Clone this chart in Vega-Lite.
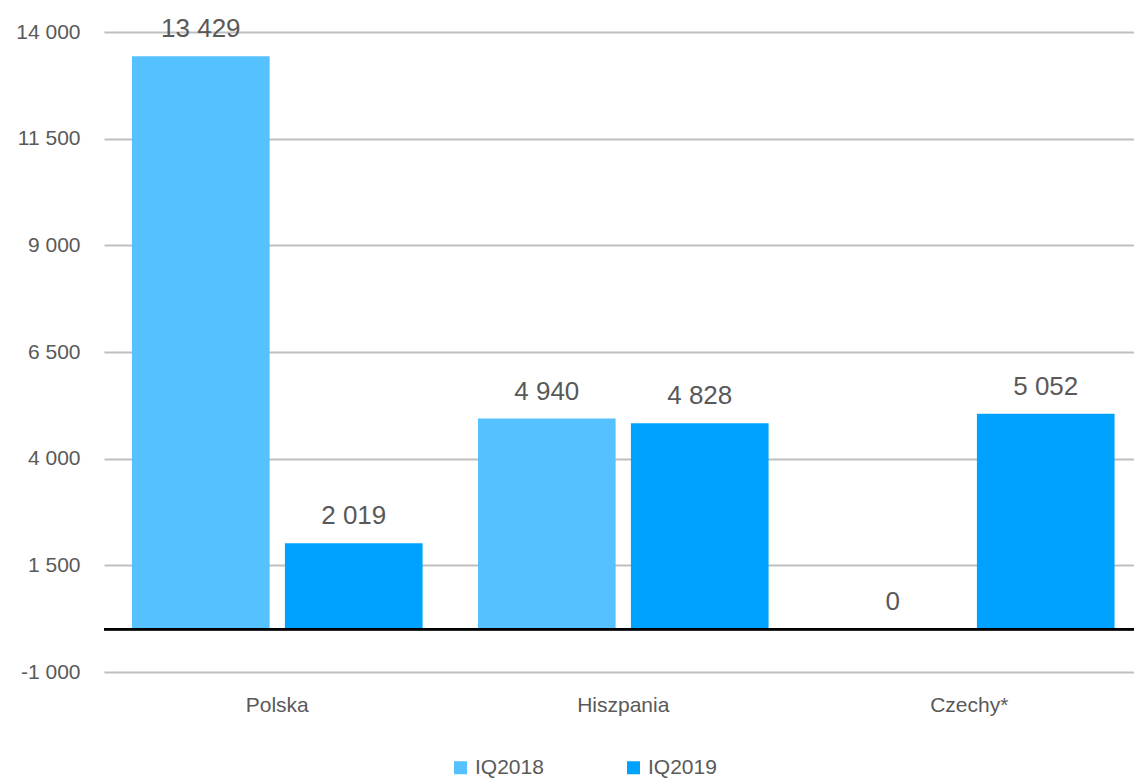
{
  "$schema": "https://vega.github.io/schema/vega-lite/v6.json",
  "autosize": "none",
  "width": 1030,
  "height": 640,
  "padding": {"left": 104, "top": 32, "right": 0, "bottom": 111},
  "background": "white",
  "config": {
    "locale": {"number": {"decimal": ",", "thousands": " ", "grouping": [3], "currency": ["", ""], "minus": "-"}},
    "font": "Liberation Sans",
    "view": {"stroke": null},
    "axis": {"labelFont": "Liberation Sans", "labelColor": "#595959", "labelFontSize": 21}
  },
  "data": {"values": [
    {"kraj": "Polska", "okres": "IQ2018", "wartosc": 13429},
    {"kraj": "Polska", "okres": "IQ2019", "wartosc": 2019},
    {"kraj": "Hiszpania", "okres": "IQ2018", "wartosc": 4940},
    {"kraj": "Hiszpania", "okres": "IQ2019", "wartosc": 4828},
    {"kraj": "Czechy*", "okres": "IQ2018", "wartosc": 0},
    {"kraj": "Czechy*", "okres": "IQ2019", "wartosc": 5052}
  ]},
  "encoding": {
    "x": {"field": "kraj", "type": "nominal", "sort": ["Polska", "Hiszpania", "Czechy*"],
      "scale": {"paddingInner": 0.16, "paddingOuter": 0.0685, "align": 0.59},
      "axis": {"title": null, "labelAngle": 0, "domain": false, "ticks": false, "labelPadding": 22, "grid": false}},
    "xOffset": {"field": "okres", "type": "nominal", "scale": {"paddingInner": 0.1}},
    "y": {"field": "wartosc", "type": "quantitative",
      "scale": {"domain": [-1000, 14000], "nice": false, "zero": false},
      "axis": {"title": null, "values": [-1000, 1500, 4000, 6500, 9000, 11500, 14000], "format": ",d",
        "domain": false, "ticks": false, "labelPadding": 24, "gridColor": "#bfbfbf", "gridWidth": 2}}
  },
  "layer": [
    {
      "mark": {"type": "bar"},
      "encoding": {
        "color": {"field": "okres", "type": "nominal",
          "scale": {"domain": ["IQ2018", "IQ2019"], "range": ["#56c1ff", "#00a2ff"]},
          "legend": {"title": null, "orient": "none", "direction": "horizontal", "legendX": 346, "legendY": 725,
            "symbolType": "square", "symbolSize": 169, "symbolStrokeWidth": 0, "labelFontSize": 21, "labelColor": "#595959",
            "labelFont": "Liberation Sans", "columnPadding": 79, "labelOffset": 4}}
      }
    },
    {
      "mark": {"type": "text", "baseline": "bottom", "dy": -14, "fontSize": 26, "color": "#595959", "font": "Liberation Sans"},
      "encoding": {"text": {"field": "wartosc", "type": "quantitative", "format": ",d"}}
    },
    {
      "mark": {"type": "rule", "color": "black", "strokeWidth": 2},
      "encoding": {"y": {"datum": 0}, "x": null, "xOffset": null}
    }
  ]
}
